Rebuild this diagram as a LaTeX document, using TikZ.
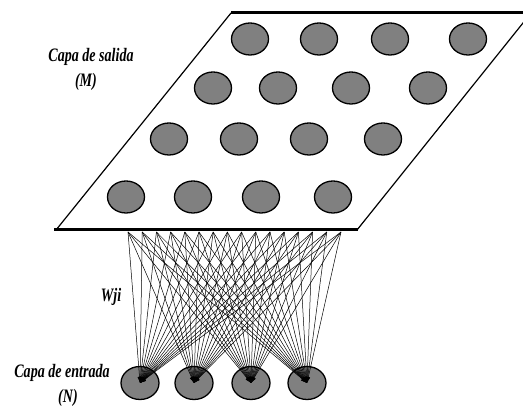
\documentclass[tikz,border=0pt]{standalone}
\usepackage{fontspec}
\setmainfont{Liberation Serif}
\usepackage{graphicx}
\usetikzlibrary{shapes.geometric,arrows.meta}
\newcommand{\narrow}[1]{\scalebox{0.74}[1]{#1}}

\begin{document}
\begin{tikzpicture}[x=1pt,y=-1pt,
    neuron/.style={ellipse,draw=black,fill=gray,line width=1.3pt,inner sep=0pt,minimum width=37pt,minimum height=32pt},
    lbl/.style={font=\fontsize{19}{21}\selectfont\bfseries\itshape},
    weight/.style={black,line width=0.5pt,-{Latex[length=6pt,width=4pt]}}]
        \useasboundingbox (0,0) rectangle (523,406);
        \clip (0,0) rectangle (523,406);

        % Output layer plane
        \fill[white] (56,230) -- (231,13) -- (531,13) -- (357,230) -- cycle;
        \draw[black,line width=1.2pt] (56,230) -- (231,13);
        \draw[black,line width=1.2pt] (531,13) -- (357,230);
        \draw[black,line width=3pt] (231,13) -- (531,13);
        \draw[black,line width=3pt] (54,230) -- (358,230);

        % Output neurons (M), row by row
        \foreach \x [count=\j] in {250,319,390,468}
            \node[neuron] (out1\j) at (\x,39) {};
        \foreach \x [count=\j] in {213,278,351,428}
            \node[neuron] (out2\j) at (\x,88) {};
        \foreach \x [count=\j] in {169,239,309,383}
            \node[neuron] (out3\j) at (\x,139) {};
        \foreach \x [count=\j] in {126,193,261,333}
            \node[neuron] (out4\j) at (\x,197) {};

        % Input neurons (N)
        \foreach \x [count=\i] in {140,194,251,307}
            \node[neuron,minimum width=38pt,minimum height=33pt] (in\i) at (\x,383) {};

        % Weights Wji
        \foreach \s in {1,...,16}
            \coordinate (w\s) at ({128+(\s-1)*14.2},232);
        \foreach \s in {1,...,16}
            \foreach \i in {1,...,4}
                \draw[weight] (w\s) -- (in\i.center);

        % Labels
        \node[lbl] (salida) at (91,57) {\narrow{Capa de salida}};
        \node[lbl] (m) at (86,82) {\narrow{(M)}};
        \node[lbl] (wji) at (111,297) {\narrow{Wji}};
        \node[lbl] (entrada) at (62,373) {\narrow{Capa de entrada}};
        \node[lbl] (n) at (68,398) {\narrow{(N)}};
    \end{tikzpicture}
\end{document}
